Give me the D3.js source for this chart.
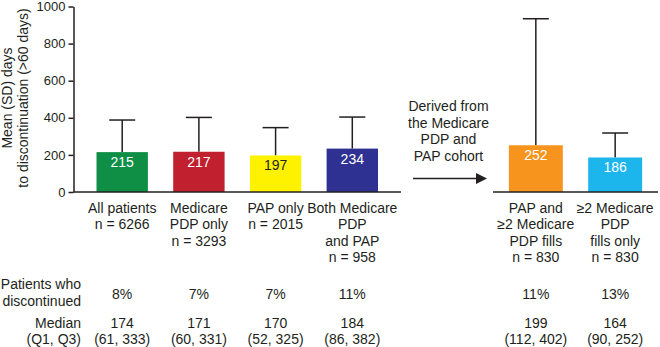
<!DOCTYPE html>
<html>
<head>
<meta charset="utf-8">
<script src="https://cdn.jsdelivr.net/npm/d3@7"></script>
<style>
  body { margin: 0; background: #fff; }
  svg text { font-family: "Liberation Sans", Arial, sans-serif; fill: #231f20; }
</style>
</head>
<body>
<svg id="chart" width="660" height="347"></svg>
<script>
// --- data ---
const leftLabels = [
  ["All patients", "n = 6266"],
  ["Medicare", "PDP only", "n = 3293"],
  ["PAP only", "n = 2015"],
  ["Both Medicare", "PDP", "and PAP", "n = 958"]
];
const leftMeans = [215, 217, 197, 234];
const leftSD = [173, 185, 150, 170];
const leftDiscontinued = ["8%", "7%", "7%", "11%"];
const leftMedian = ["174", "171", "170", "184"];
const leftIQR = ["(61, 333)", "(60, 331)", "(52, 325)", "(86, 382)"];
const leftColors = ["#0f8f46", "#c1202f", "#fff200", "#2e3192"];

const rightLabels = [
  ["PAP and", "\u22652 Medicare", "PDP fills", "n = 830"],
  ["\u22652 Medicare", "PDP", "fills only", "n = 830"]
];
const rightMeans = [252, 186];
const rightSD = [682, 132];
const rightDiscontinued = ["11%", "13%"];
const rightMedian = ["199", "164"];
const rightIQR = ["(112, 402)", "(90, 252)"];
const rightColors = ["#f7941d", "#1cb5ec"];

const yTicks = [0, 200, 400, 600, 800, 1000];
const derivedText = ["Derived from", "the Medicare", "PDP and", "PAP cohort"];

// --- setup ---
const svg = d3.select("#chart");
const axisX = 73.5, baseY = 192;
const y = d3.scaleLinear().domain([0, 1000]).range([baseY, 6.5]);

const lineH = 16.5;
const labelTop = 212.5;

// y 轴
const yAxis = svg.append("g")
  .attr("transform", `translate(${axisX},0)`)
  .call(d3.axisLeft(y).tickValues(yTicks).tickFormat(d3.format("d"))
    .tickSize(5).tickSizeOuter(0).tickPadding(3));
yAxis.select(".domain").attr("stroke", "#231f20").attr("stroke-width", 1.5);
yAxis.selectAll(".tick line").attr("stroke", "#231f20").attr("stroke-width", 1.5);
yAxis.selectAll(".tick text")
  .attr("font-size", 13)
  .attr("font-family", "Liberation Sans, Arial, sans-serif")
  .attr("fill", "#231f20");

// y 轴标题
const yTitle = svg.append("text")
  .attr("transform", "translate(0,98) rotate(-90)")
  .attr("text-anchor", "middle")
  .attr("font-size", 14);
yTitle.append("tspan").attr("x", 0).attr("y", 12).text("Mean (SD) days");
yTitle.append("tspan").attr("x", 0).attr("y", 28).text("to discontinuation (>60 days)");

// 绘制一组柱子
function drawGroup(range, padIn, padOut, labels, means, sds, colors, disc, med, iqr, axisEnd) {
  const x = d3.scaleBand()
    .domain(labels.map((d, i) => i))
    .range(range)
    .paddingInner(padIn)
    .paddingOuter(padOut);

  const g = svg.append("g");

  // error bars (mean + SD, upper only)
  const eb = g.selectAll("g.err").data(means).enter().append("g").attr("class", "err");
  eb.append("line")
    .attr("x1", (d, i) => x(i) + x.bandwidth() / 2)
    .attr("x2", (d, i) => x(i) + x.bandwidth() / 2)
    .attr("y1", d => y(d))
    .attr("y2", (d, i) => y(d + sds[i]))
    .attr("stroke", "#231f20").attr("stroke-width", 1.5);
  eb.append("line")
    .attr("x1", (d, i) => x(i) + x.bandwidth() / 2 - 13)
    .attr("x2", (d, i) => x(i) + x.bandwidth() / 2 + 13)
    .attr("y1", (d, i) => y(d + sds[i]))
    .attr("y2", (d, i) => y(d + sds[i]))
    .attr("stroke", "#231f20").attr("stroke-width", 1.5);

  // bars
  g.selectAll("rect").data(means).enter().append("rect")
    .attr("x", (d, i) => x(i))
    .attr("y", d => y(d))
    .attr("width", x.bandwidth())
    .attr("height", d => baseY - y(d))
    .attr("fill", (d, i) => colors[i]);

  // 柱内数值
  g.selectAll("text.val").data(means).enter().append("text")
    .attr("class", "val")
    .attr("x", (d, i) => x(i) + x.bandwidth() / 2)
    .attr("y", d => y(d) + 15)
    .attr("text-anchor", "middle")
    .attr("font-size", 14)
    .style("fill", (d, i) => colors[i] === "#fff200" ? "#231f20" : "#fff")
    .text(d => d);

  // baseline
  g.append("line")
    .attr("x1", range[0]).attr("x2", axisEnd)
    .attr("y1", baseY).attr("y2", baseY)
    .attr("stroke", "#231f20").attr("stroke-width", 1.5);

  // 分类标签
  labels.forEach((lines, i) => {
    const cx = x(i) + x.bandwidth() / 2;
    const t = g.append("text").attr("text-anchor", "middle").attr("font-size", 14);
    lines.forEach((s, j) => {
      t.append("tspan").attr("x", cx).attr("y", labelTop + j * lineH).text(s);
    });
    g.append("text").attr("x", cx).attr("y", 298.5)
      .attr("text-anchor", "middle").attr("font-size", 14).text(disc[i]);
    g.append("text").attr("x", cx).attr("y", 327.5)
      .attr("text-anchor", "middle").attr("font-size", 14).text(med[i]);
    g.append("text").attr("x", cx).attr("y", 344)
      .attr("text-anchor", "middle").attr("font-size", 14).text(iqr[i]);
  });
}

drawGroup([axisX, 401], 0.33, 0.3, leftLabels, leftMeans, leftSD, leftColors,
  leftDiscontinued, leftMedian, leftIQR, 401);
drawGroup([493, 658], 0.32, 0.2, rightLabels, rightMeans, rightSD, rightColors,
  rightDiscontinued, rightMedian, rightIQR, 658);

// 行标题
const rowLabels = [["Patients who", 289], ["discontinued", 305.5], ["Median", 327.5], ["(Q1, Q3)", 344]];
rowLabels.forEach(([s, yy]) => {
  svg.append("text").attr("x", 81).attr("y", yy)
    .attr("text-anchor", "end").attr("font-size", 14).text(s);
});

// 箭头说明
const dt = svg.append("text").attr("text-anchor", "middle").attr("font-size", 14);
derivedText.forEach((s, j) => {
  dt.append("tspan").attr("x", 448.5).attr("y", 111 + j * lineH).text(s);
});
svg.append("line")
  .attr("x1", 413).attr("x2", 478)
  .attr("y1", 178.5).attr("y2", 178.5)
  .attr("stroke", "#231f20").attr("stroke-width", 1.5);
svg.append("path")
  .attr("d", "M476,173 L487,178.5 L476,184 Z")
  .attr("fill", "#231f20");
</script>
</body>
</html>
